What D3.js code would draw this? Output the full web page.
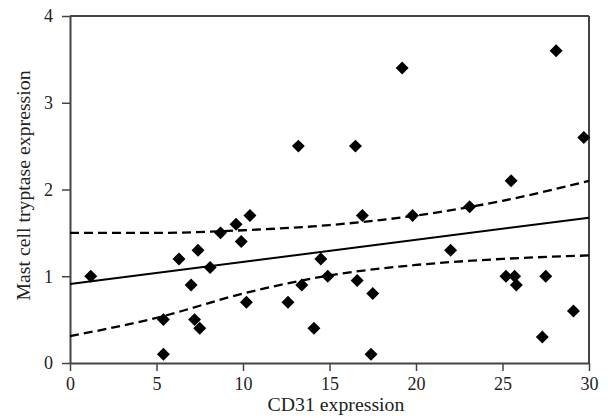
<!DOCTYPE html>
<html>
<head>
<meta charset="utf-8">
<script src="https://cdn.jsdelivr.net/npm/d3@7"></script>
<style>
  html, body { margin: 0; padding: 0; background: #fff; }
  svg text { font-family: "Liberation Serif", "Times New Roman", serif; fill: #222; }
</style>
</head>
<body>
<div id="chart"></div>
<script>
// Scatter of mast cell tryptase vs CD31 expression, with fit + confidence band

const cd31 = [1.2, 5.4, 5.4, 6.3, 7.0, 7.2, 7.4, 7.5, 8.1, 8.7, 9.6, 9.9, 10.2, 10.4, 12.6,
  13.2, 13.4, 14.1, 14.5, 14.9, 16.5, 16.6, 16.9, 17.4, 17.5, 19.2, 19.8, 22.0, 23.1,
  25.2, 25.5, 25.7, 25.8, 27.3, 27.5, 28.1, 29.1, 29.7];
const tryptase = [1.0, 0.5, 0.1, 1.2, 0.9, 0.5, 1.3, 0.4, 1.1, 1.5, 1.6, 1.4, 0.7, 1.7, 0.7,
  2.5, 0.9, 0.4, 1.2, 1.0, 2.5, 0.95, 1.7, 0.1, 0.8, 3.4, 1.7, 1.3, 1.8,
  1.0, 2.1, 1.0, 0.9, 0.3, 1.0, 3.6, 0.6, 2.6];

// regression line end points
const fitX = [0, 30];
const fitY = [0.91, 1.675];

const bandX = [0, 5, 10, 15, 20, 25, 30];
const bandUpper = [1.50, 1.50, 1.53, 1.59, 1.70, 1.87, 2.10];
const bandLower = [0.31, 0.52, 0.80, 1.01, 1.13, 1.20, 1.24];

const xTicks = [0, 5, 10, 15, 20, 25, 30];
const yTicks = [0, 1, 2, 3, 4];

const W = 608, H = 418;
const margin = { top: 16, right: 19, bottom: 55, left: 70 };
const axisColor = "#444";
const serif = "Liberation Serif, Times New Roman, serif";

const svg = d3.select("#chart").append("svg")
  .attr("width", W)
  .attr("height", H);

const x = d3.scaleLinear().domain([0, 30]).range([margin.left, W - margin.right]);
const y = d3.scaleLinear().domain([0, 4]).range([H - margin.bottom, margin.top]);

// frame top + right
svg.append("line")
  .attr("x1", x(0)).attr("x2", x(30)).attr("y1", y(4)).attr("y2", y(4))
  .attr("stroke", axisColor).attr("stroke-width", 2);
svg.append("line")
  .attr("x1", x(30)).attr("x2", x(30)).attr("y1", y(4)).attr("y2", y(0))
  .attr("stroke", axisColor).attr("stroke-width", 2);

// axes
const xAxis = svg.append("g")
  .attr("transform", `translate(0,${y(0)})`)
  .call(d3.axisBottom(x).tickValues(xTicks).tickFormat(d3.format("d"))
    .tickSize(8).tickSizeOuter(0).tickPadding(6));
const yAxis = svg.append("g")
  .attr("transform", `translate(${x(0)},0)`)
  .call(d3.axisLeft(y).tickValues(yTicks).tickFormat(d3.format("d"))
    .tickSize(8).tickSizeOuter(0).tickPadding(9));

[xAxis, yAxis].forEach(g => {
  g.attr("font-family", serif).attr("font-size", 18);
  g.select(".domain").attr("stroke", axisColor).attr("stroke-width", 2);
  g.selectAll(".tick line").attr("stroke", axisColor).attr("stroke-width", 1.5);
  g.selectAll(".tick text").attr("fill", "#222");
});

// points
svg.append("g").selectAll("path")
  .data(cd31.map((v, i) => [v, tryptase[i]]))
  .enter()
  .append("path")
  .attr("d", d3.symbol().type(d3.symbolSquare).size(84))
  .attr("transform", d => `translate(${x(d[0])},${y(d[1])}) rotate(45)`)
  .attr("fill", "#000");

// fit line
const line = d3.line().x(d => x(d[0])).y(d => y(d[1]));
svg.append("path")
  .datum(fitX.map((v, i) => [v, fitY[i]]))
  .attr("d", line)
  .attr("fill", "none")
  .attr("stroke", "#000")
  .attr("stroke-width", 2);

// confidence band (dashed)
const curve = d3.line().x(d => x(d[0])).y(d => y(d[1])).curve(d3.curveMonotoneX);
[bandUpper, bandLower].forEach(arr => {
  svg.append("path")
    .datum(bandX.map((v, i) => [v, arr[i]]))
    .attr("d", curve)
    .attr("fill", "none")
    .attr("stroke", "#000")
    .attr("stroke-width", 2.3)
    .attr("stroke-dasharray", "9,5");
});

// titles
svg.append("text")
  .attr("x", 336)
  .attr("y", 411)
  .attr("text-anchor", "middle")
  .attr("font-size", 19.8)
  .text("CD31 expression");

svg.append("text")
  .attr("transform", `translate(30,${(y(0) + y(4)) / 2 - 4}) rotate(-90)`)
  .attr("text-anchor", "middle")
  .attr("font-size", 19.8)
  .text("Mast cell tryptase expression");
</script>
</body>
</html>
